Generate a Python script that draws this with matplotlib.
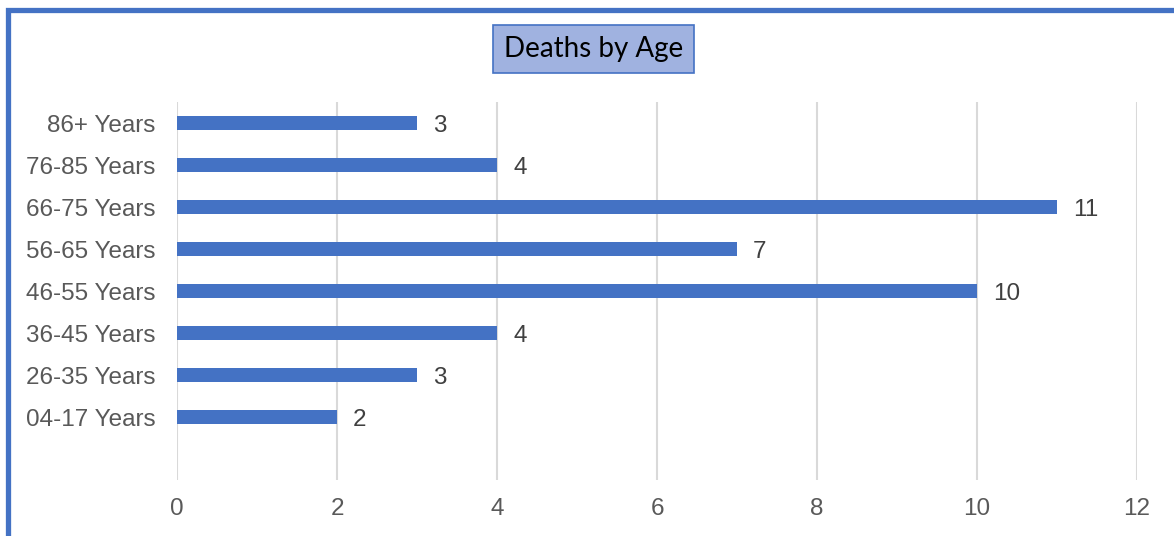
import matplotlib.pyplot as plt
from matplotlib.patches import Rectangle

# data (top to bottom as shown; blank slot at the bottom)
age_groups = ['86+ Years', '76-85 Years', '66-75 Years', '56-65 Years',
              '46-55 Years', '36-45 Years', '26-35 Years', '04-17 Years', '']
deaths = [3, 4, 11, 7, 10, 4, 3, 2, None]
x_ticks = [0, 2, 4, 6, 8, 10, 12]

bar_color = '#4472C4'
text_color = '#595959'

plt.rcParams['font.family'] = ['Liberation Sans', 'DejaVu Sans']

fig = plt.figure(figsize=(11.74, 5.36), dpi=100)
ax = fig.add_axes([177 / 1174, 1 - 480 / 536, (1137 - 177) / 1174, (480 - 102) / 536])

pos = list(range(len(age_groups)))
vals = [v if v is not None else 0 for v in deaths]
ax.barh(pos, vals, height=0.34, color=bar_color, zorder=3)
ax.set_ylim(len(age_groups) - 0.5, -0.5)
ax.set_xlim(0, 12)
ax.set_xticks(x_ticks)
ax.set_yticks(pos)
ax.set_yticklabels(age_groups)

for p, v in zip(pos, deaths):
    if v is not None:
        ax.text(v + 0.2, p, str(v), va='center_baseline', ha='left',
                fontsize=17.5, color='#404040')

ax.grid(axis='x', color='#D9D9D9', linewidth=1.5, zorder=0)
for s in ax.spines.values():
    s.set_visible(False)
ax.tick_params(axis='both', length=0, labelsize=17.5, colors=text_color)
ax.tick_params(axis='x', pad=13)
ax.tick_params(axis='y', pad=15.5)
for lbl in ax.get_yticklabels():
    lbl.set_verticalalignment('center_baseline')

# title box
fig.text(593.5 / 1174, 1 - 49 / 536, 'Deaths by Age', ha='center', va='center',
         fontsize=20, family=['Lato', 'DejaVu Sans'], color='black',
         bbox=dict(boxstyle='square,pad=0.38', facecolor='#A0B2E0',
                   edgecolor='#4472C4', linewidth=1.2))

# blue chart border on left and top
fig.patches.append(Rectangle((7.5 / 1174, -0.1), 1.2, 1.1 - 10.5 / 536,
                             transform=fig.transFigure, fill=False,
                             edgecolor=bar_color, linewidth=3.8, zorder=10))

fig.savefig('out.png', dpi=100)
